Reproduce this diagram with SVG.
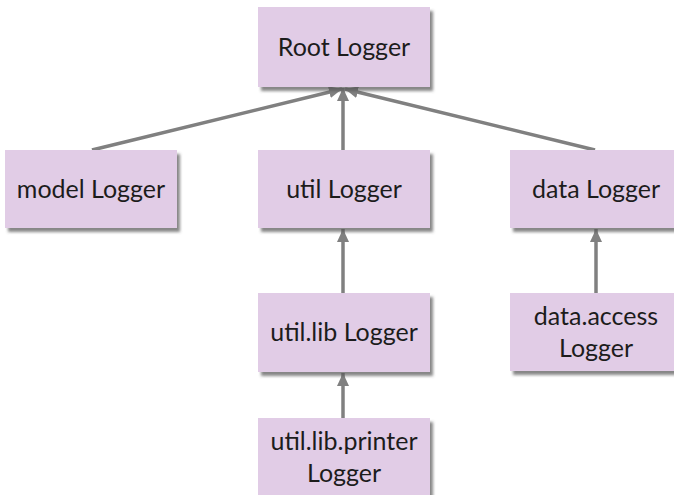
<svg xmlns="http://www.w3.org/2000/svg" width="674" height="495" viewBox="0 0 674 495">
  <defs>
    <filter id="shadow" x="-10%" y="-10%" width="130%" height="130%">
      <feDropShadow dx="3" dy="4" stdDeviation="1.5" flood-color="#555555" flood-opacity="0.7"/>
    </filter>
    <marker id="arrow" markerUnits="userSpaceOnUse" markerWidth="14" markerHeight="14" viewBox="0 0 14 14" refX="13" refY="7" orient="auto">
      <path d="M0,1 L13,7 L0,13 Z" fill="#808080"/>
    </marker>
  </defs>
  <style>
    .box { fill: #E1CCE6; filter: url(#shadow); }
    .label { font-family: Lato, "Noto Sans", "Liberation Sans", sans-serif; font-size: 25px; fill: #1c1c1c; text-anchor: middle; }
    .conn { stroke: #808080; stroke-width: 3.5; fill: none; marker-end: url(#arrow); }
  </style>
  <rect width="674" height="495" fill="#ffffff"/>

  <g id="connectors">
    <line class="conn" x1="92" y1="150" x2="342" y2="89"/>
    <line class="conn" x1="343" y1="150" x2="343" y2="88"/>
    <line class="conn" x1="595" y1="150" x2="345" y2="89"/>
    <line class="conn" x1="343" y1="293" x2="343" y2="229"/>
    <line class="conn" x1="596" y1="293" x2="596" y2="229"/>
    <line class="conn" x1="343" y1="418" x2="343" y2="373"/>
  </g>

  <g id="root">
    <rect class="box" x="258" y="7" width="172" height="80"/>
    <text class="label" x="344" y="56">Root Logger</text>
  </g>
  <g id="model">
    <rect class="box" x="5" y="150" width="172" height="78"/>
    <text class="label" x="91" y="198">model Logger</text>
  </g>
  <g id="util">
    <rect class="box" x="258" y="150" width="172" height="78"/>
    <text class="label" x="344" y="198">util Logger</text>
  </g>
  <g id="data">
    <rect class="box" x="510" y="150" width="172" height="78"/>
    <text class="label" x="596" y="198">data Logger</text>
  </g>
  <g id="utillib">
    <rect class="box" x="258" y="293" width="172" height="79"/>
    <text class="label" x="344" y="341">util.lib Logger</text>
  </g>
  <g id="dataaccess">
    <rect class="box" x="510" y="293" width="172" height="78"/>
    <text class="label" x="596" y="325">data.access</text>
    <text class="label" x="596" y="357">Logger</text>
  </g>
  <g id="printer">
    <rect class="box" x="258" y="418" width="172" height="80"/>
    <text class="label" x="344" y="450">util.lib.printer</text>
    <text class="label" x="344" y="482">Logger</text>
  </g>
</svg>
